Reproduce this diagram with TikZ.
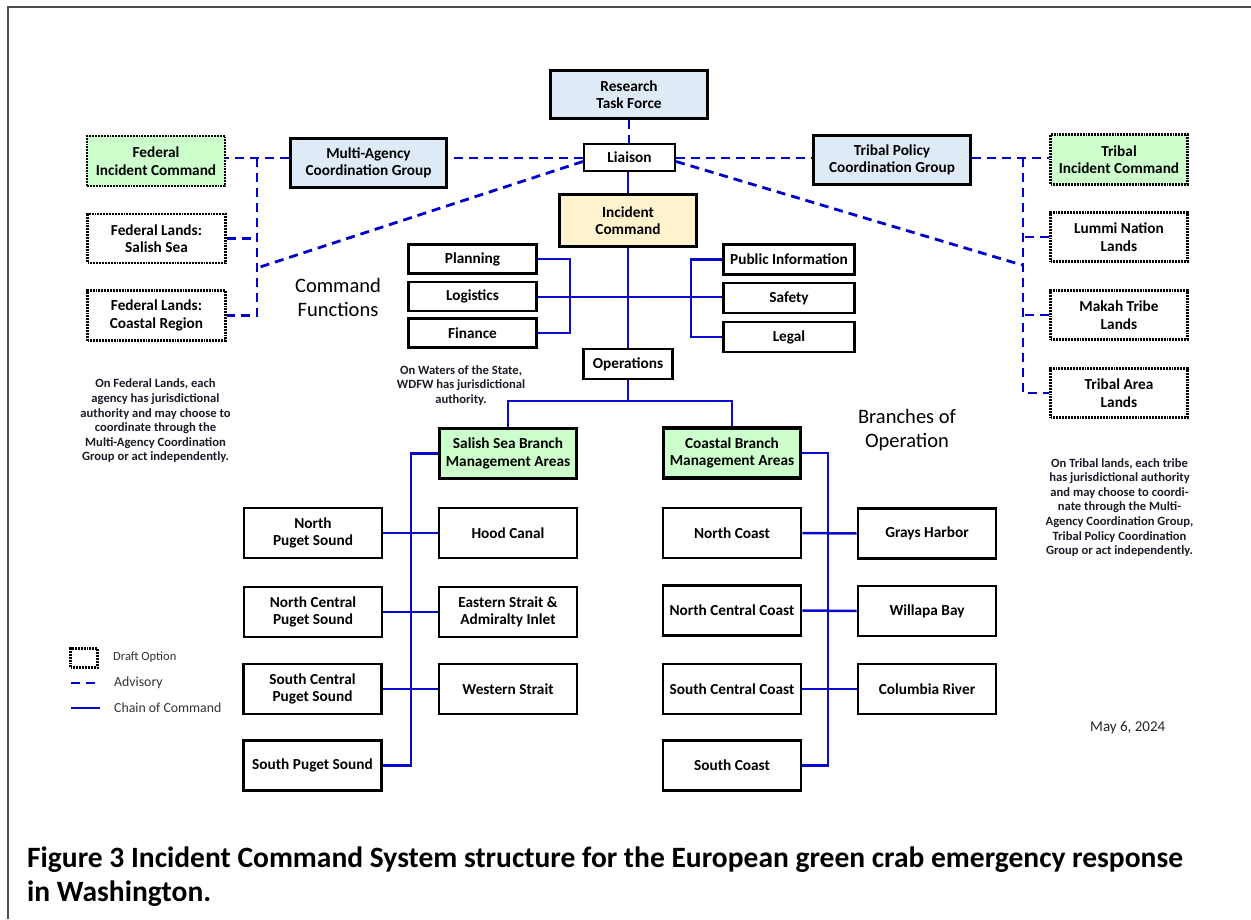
\documentclass[tikz,border=0pt]{standalone}
\usepackage{fontspec}
\setmainfont{Carlito}
\usetikzlibrary{calc}
\definecolor{lblue}{HTML}{DEEBF7}
\definecolor{lyellow}{HTML}{FFF2CC}
\definecolor{lgreen}{HTML}{CCFFCC}
\definecolor{advblue}{HTML}{0000CC}
\definecolor{chainblue}{HTML}{0A0ACF}
\definecolor{framegray}{HTML}{505050}
\definecolor{notecol}{HTML}{1C1C28}
\newcommand{\boxfont}{\fontsize{15.3}{17.6}\selectfont\bfseries}
\newcommand{\notefont}{\fontsize{12.6}{14.6}\selectfont\bfseries}
\newcommand{\bigfont}{\fontsize{20.5}{23.5}\selectfont}
\begin{document}
\begin{tikzpicture}[x=1pt,y=-1pt,
  base/.style={draw, inner sep=1pt, align=center, font=\boxfont, text=black},
  thickbox/.style={base, line width=3.4pt},
  box/.style={base, line width=2.6pt, fill=white, minimum width=138, minimum height=50},
  fbox/.style={base, line width=2.6pt, fill=white, minimum height=29},
  thinbox/.style={base, line width=2.2pt, fill=white},
  draftbox/.style={base, line width=2.8pt, dash pattern=on 1.9pt off 1.0pt, fill=white, minimum width=138, minimum height=49},
  advisory/.style={draw=advblue, line width=2.8pt, dash pattern=on 9pt off 6pt},
  chain/.style={draw=chainblue, line width=2.5pt},
  note/.style={align=center, font=\notefont, text=notecol, inner sep=0pt},
  biglabel/.style={align=center, font=\bigfont, text=black, inner sep=0pt},
  legtext/.style={anchor=west, inner sep=0pt, text=black!80, font=\fontsize{13.8}{16}\selectfont}
]
\useasboundingbox (0,0) rectangle (1251,919);
\fill[white] (0,0) rectangle (1251,919);
% frame
\draw[framegray, line width=2pt] (8,919) -- (8,7) -- (1251,7);

% top nodes
\node[thickbox, fill=lblue, minimum width=157, minimum height=48] (rtf) at (629,94.5) {Research\\Task Force};
\node[thinbox, minimum width=91, minimum height=27] (liaison) at (629.5,157.5) {Liaison};
\node[thickbox, fill=lyellow, minimum width=137, minimum height=52] (ic) at (628,220.5) {Incident\\Command};
\node[thickbox, fill=lblue, minimum width=156, minimum height=49] (mag) at (368.5,163) {Multi-Agency\\Coordination Group};
\node[thickbox, fill=lblue, minimum width=157, minimum height=49] (tpcg) at (892,160) {Tribal Policy\\Coordination Group};

% federal side
\node[draftbox, fill=lgreen, minimum height=50] (fedic) at (156,161) {Federal\\Incident Command};
\node[draftbox] (fedsal) at (156.5,238.5) {Federal Lands:\\Salish Sea};
\node[draftbox, minimum height=50] (fedcoast) at (156.5,315.5) {Federal Lands:\\Coastal Region};

% tribal side
\node[draftbox, fill=lgreen, minimum width=137, minimum height=50] (tribic) at (1119,159.5) {Tribal\\Incident Command};
\node[draftbox, minimum width=137] (lummi) at (1119,237) {Lummi Nation\\Lands};
\node[draftbox, minimum width=137] (makah) at (1119,315) {Makah Tribe\\Lands};
\node[draftbox, minimum width=137] (tribarea) at (1119,393) {Tribal Area\\Lands};

% command functions
\node[fbox, minimum width=128] (planning) at (472.5,259) {Planning};
\node[fbox, minimum width=128] (logistics) at (472.5,296.5) {Logistics};
\node[fbox, minimum width=128] (finance) at (472.5,333) {Finance};
\node[fbox, minimum width=131, minimum height=30] (pubinfo) at (789,259.5) {Public Information};
\node[fbox, minimum width=131, minimum height=30] (safety) at (789,298) {Safety};
\node[fbox, minimum width=131, minimum height=30] (legal) at (789,337) {Legal};

\node[thinbox, minimum width=89, minimum height=30] (ops) at (628,364) {Operations};

% branches
\node[thickbox, fill=lgreen, minimum width=137, minimum height=50] (salbr) at (508,453.5) {Salish Sea Branch\\Management Areas};
\node[thickbox, fill=lgreen, minimum width=137, minimum height=50] (coastbr) at (732,453) {Coastal Branch\\Management Areas};

% salish areas
\node[box] (nps) at (313,533) {North\\Puget Sound};
\node[box] (hood) at (508,533) {Hood Canal};
\node[box] (ncps) at (313,612) {North Central\\Puget Sound};
\node[box] (east) at (508,612) {Eastern Strait \&\\Admiralty Inlet};
\node[box] (scps) at (312.5,689) {South Central\\Puget Sound};
\node[box] (west) at (508,689) {Western Strait};
\node[box] (sps) at (312.5,765.5) {South Puget Sound};

% coastal areas
\node[box] (ncoast) at (732,533) {North Coast};
\node[box] (grays) at (927,533.5) {Grays Harbor};
\node[box] (ncc) at (732,610.5) {North Central Coast};
\node[box] (willapa) at (927,611) {Willapa Bay};
\node[box] (scc) at (732,689) {South Central Coast};
\node[box] (columbia) at (927,689) {Columbia River};
\node[box] (scoast) at (732,765.5) {South Coast};

% coordinates for junctions
\coordinate (fj) at (257,158);
\coordinate (fd) at (257,268);
\coordinate (tj) at (1023,158);
\coordinate (td) at (1022,265);
\coordinate (salx) at (411,0);
\coordinate (coax) at (828,0);
\coordinate (opsy) at (0,401);
\coordinate (cfy) at (0,297);

% advisory connectors
\draw[advisory] (rtf.south) -- (liaison.north -| rtf.south);
\draw[advisory] (liaison.west |- 0,158) -- (mag.east |- 0,158);
\draw[advisory] (mag.west |- 0,158) -- (fedic.east |- 0,158);
\draw[advisory] (fj) |- (fedcoast.east);
\draw[advisory] (fedsal.east) -- (fedsal.east -| fj);
\draw[advisory] ($(liaison.west)+(0,4)$) -- (fd);
\draw[advisory] (liaison.east |- 0,158) -- (tpcg.west |- 0,158);
\draw[advisory] (tpcg.east |- 0,158) -- (tribic.west |- 0,158);
\draw[advisory] (tj) |- (tribarea.west);
\draw[advisory] (lummi.west) -- (lummi.west -| tj);
\draw[advisory] (makah.west) -- (makah.west -| tj);
\draw[advisory] ($(liaison.east)+(0,4)$) -- (td);

% chain of command
\draw[chain] (liaison.south -| ic.north) -- (ic.north);
\draw[chain] (ic.south) -- (ops.north);
\draw[chain] (logistics.east |- cfy) -- (safety.west |- cfy);
\draw[chain] (planning.east) -- ++(32,0) |- (finance.east);
\draw[chain] (pubinfo.west) -- ++(-31,0) |- (legal.west);
\draw[chain] (ops.south) -- (ops.south |- opsy) -| (salbr.north);
\draw[chain] (ops.south |- opsy) -| (coastbr.north);
\draw[chain] (salbr.west) -| (salx |- sps.east) -- (sps.east);
\draw[chain] (nps.east) -- (hood.west);
\draw[chain] (ncps.east) -- (east.west);
\draw[chain] (scps.east) -- (west.west);
\draw[chain] (coastbr.east) -| (coax |- scoast.east) -- (scoast.east);
\draw[chain] (ncoast.east) -- (grays.west);
\draw[chain] (ncc.east) -- (willapa.west);
\draw[chain] (scc.east) -- (columbia.west);

% labels
\node[biglabel] (cmdfn) at (338,297.5) {Command\\Functions};
\node[biglabel] (brop) at (907,430) {Branches of\\Operation};
\node[note] (fednote) at (155.5,421) {On Federal Lands, each\\agency has jurisdictional\\authority and may choose to\\coordinate through the\\Multi-Agency Coordination\\Group or act independently.};
\node[note] (watnote) at (461,385.5) {On Waters of the State,\\WDFW has jurisdictional\\authority.};
\node[note] (tribnote) at (1119.5,507.5) {On Tribal lands, each tribe\\has jurisdictional authority\\and may choose to coordi-\\nate through the Multi-\\Agency Coordination Group,\\Tribal Policy Coordination\\Group or act independently.};

% legend
\node[draw=black, line width=2.8pt, dash pattern=on 1.9pt off 1.0pt, minimum width=27, minimum height=19, inner sep=0pt] (legbox) at (84,658) {};
\node[legtext, font=\fontsize{12.5}{15}\selectfont] (legdraft) at (113,657) {Draft Option};
\coordinate (la1) at (71,683);
\coordinate (la2) at (100,683);
\draw[advisory, dash pattern=on 9pt off 6pt] (la1) -- (la2);
\node[legtext] (legadv) at (114,683) {Advisory};
\coordinate (lc1) at (71,708);
\coordinate (lc2) at (100,708);
\draw[chain] (lc1) -- (lc2);
\node[legtext] (legchain) at (114,707.5) {Chain of Command};

\node[anchor=west, inner sep=0pt, font=\fontsize{15}{18}\selectfont, text=black!85] (date) at (1090,728) {May 6, 2024};

% caption
\node[anchor=base west, inner sep=0pt, font=\fontsize{29.5}{34}\selectfont\bfseries] (cap1) at (27,867) {Figure 3 Incident Command System structure for the European green crab emergency response};
\node[anchor=base west, inner sep=0pt, font=\fontsize{29.5}{34}\selectfont\bfseries] (cap2) at (27,901) {in Washington.};
\end{tikzpicture}
\end{document}
